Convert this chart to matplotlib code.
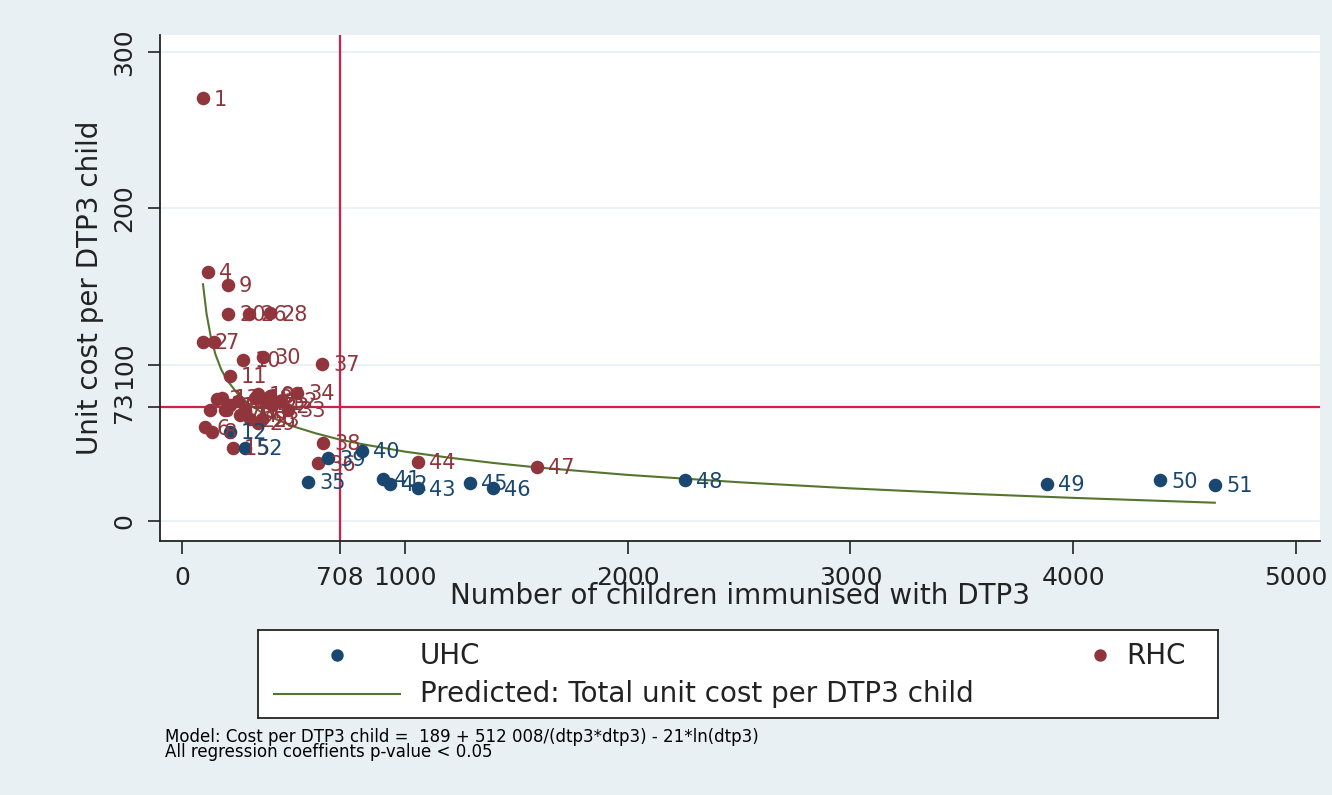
import matplotlib.pyplot as plt
import numpy as np

# ---- data ----
# RHC health centres
rhc_id = [1, 2, 3, 4, 5, 6, 7, 8, 9, 10, 11, 13, 14, 15, 16, 17, 18, 19, 20,
          21, 22, 23, 24, 25, 26, 27, 28, 29, 30, 31, 32, 33, 34, 36, 37, 38,
          44, 47]
rhc_x = [94, 94, 157, 117, 126, 103, 144, 135, 206, 274, 215, 180, 215, 229,
         251, 283, 328, 341, 206, 373, 404, 359, 260, 305, 301, 193, 395, 341,
         364, 395, 440, 476, 516, 610, 628, 633, 1059, 1593]
rhc_y = [270.6, 114.5, 78, 159.3, 71, 60, 114.5, 57, 151, 103, 92.8, 79, 74,
         46.7, 77, 71, 79, 81, 132.4, 76, 74, 65, 68, 65, 132.4, 71, 133, 63,
         105, 80, 77, 71, 82, 37, 100.4, 50, 37.7, 34.5]

# UHC health centres
uhc_id = [12, 35, 39, 40, 41, 42, 43, 45, 46, 48, 49, 50, 51, 52]
uhc_x = [215, 566, 655, 808, 902, 934, 1059, 1293, 1396, 2258, 3882, 4390,
         4636, 283]
uhc_y = [57, 25, 40, 45, 27, 23.7, 21, 24.3, 21, 26, 23.7, 26, 23, 46.7]

# predicted curve
pred_x = [94, 110, 130, 150, 175, 200, 250, 300, 350, 400, 500, 600, 700,
          800, 1000, 1200, 1400, 1600, 2000, 2500, 3000, 3500, 4000, 4636]
pred_y = [151.5, 132.6, 117.1, 106.6, 97.2, 90.5, 81.3, 74.9, 70.2, 66.4,
          60.5, 56.1, 52.4, 49.4, 44.4, 40.5, 37.1, 34.2, 29.5, 24.8, 20.9,
          17.6, 14.8, 11.7]

mean_x = 708
mean_y = 73
xticks = [0, mean_x, 1000, 2000, 3000, 4000, 5000]
yticks = [0, mean_y, 100, 200, 300]

navy = '#1a476f'
maroon = '#90353b'
green = '#55752f'
refred = '#d41f48'
bg = '#e8f0f3'
ink = '#222222'

plt.rcParams['font.family'] = ['DejaVu Sans']

fig = plt.figure(figsize=(13.32, 7.95), dpi=100)
fig.patch.set_facecolor(bg)
ax = fig.add_axes([160 / 1332, 1 - 541 / 795, 1160 / 1332, 506 / 795])
ax.set_facecolor('white')

for g in [0, 100, 200, 300]:
    ax.axhline(g, color=bg, lw=1.2, zorder=0)

ax.axvline(mean_x, color=refred, lw=1.6, zorder=1)
ax.axhline(mean_y, color=refred, lw=1.6, zorder=1)

ax.plot(pred_x, pred_y, color=green, lw=1.5, zorder=3)
ax.scatter(rhc_x, rhc_y, s=95, color=maroon, zorder=4, linewidths=0)
ax.scatter(uhc_x, uhc_y, s=95, color=navy, zorder=5, linewidths=0)

for i, x, y in zip(rhc_id, rhc_x, rhc_y):
    ax.annotate(str(i), (x, y), xytext=(8, -1), textcoords='offset points',
                va='center', ha='left', color=maroon, fontsize=15, zorder=6)
for i, x, y in zip(uhc_id, uhc_x, uhc_y):
    ax.annotate(str(i), (x, y), xytext=(8, -1), textcoords='offset points',
                va='center', ha='left', color=navy, fontsize=15, zorder=6)

ax.set_xlim(-99, 5108)
ax.set_ylim(-12.8, 311)
ax.set_xticks(xticks)
ax.set_yticks(yticks)
ax.set_xticklabels([str(t) for t in xticks])
ax.set_yticklabels([str(t) for t in yticks], rotation=90, va='center')
ax.tick_params(axis='both', length=9, width=1.2, labelsize=18, colors=ink)
ax.tick_params(axis='x', pad=9)
ax.tick_params(axis='y', pad=8)
for s in ['top', 'right']:
    ax.spines[s].set_visible(False)
for s in ['left', 'bottom']:
    ax.spines[s].set_linewidth(1.3)
    ax.spines[s].set_color(ink)

ax.set_xlabel('Number of children immunised with DTP3', fontsize=20,
              color=ink, labelpad=-6)
ax.set_ylabel('Unit cost per DTP3 child', fontsize=20, color=ink,
              labelpad=6)

# legend box
lg = fig.add_axes([258 / 1332, 1 - 718 / 795, 960 / 1332, 88 / 795])
lg.set_xlim(258, 1218)
lg.set_ylim(718, 630)
lg.set_xticks([])
lg.set_yticks([])
lg.set_facecolor('white')
for s in lg.spines.values():
    s.set_linewidth(1.3)
    s.set_color(ink)
lg.scatter([337], [655], s=80, color=navy, linewidths=0)
lg.text(420, 656, 'UHC', fontsize=20, va='center', color=ink)
lg.scatter([1100], [655], s=80, color=maroon, linewidths=0)
lg.text(1126, 656, 'RHC', fontsize=20, va='center', color=ink)
lg.plot([274, 400], [694, 694], color=green, lw=1.5)
lg.text(420, 694, 'Predicted: Total unit cost per DTP3 child', fontsize=20,
        va='center', color=ink)

fig.text(165 / 1332, 1 - 737 / 795,
         'Model: Cost per DTP3 child =  189 + 512 008/(dtp3*dtp3) - 21*ln(dtp3)',
         fontsize=12, va='center', color='black')
fig.text(165 / 1332, 1 - 752 / 795, 'All regression coeffients p-value < 0.05',
         fontsize=12, va='center', color='black')

fig.savefig('out.png', dpi=100, facecolor=bg)
